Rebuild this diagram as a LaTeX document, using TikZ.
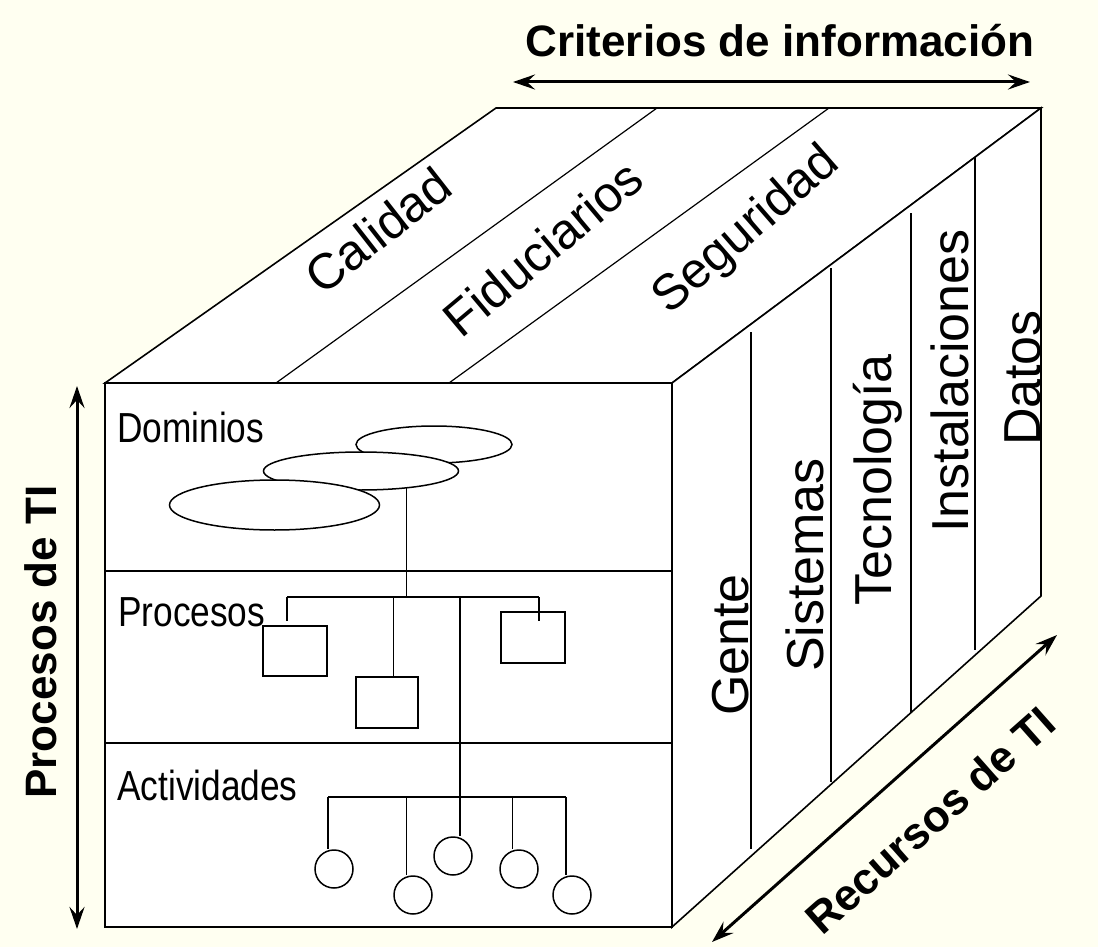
\documentclass[tikz,border=0pt]{standalone}
\usepackage{fontspec}
\setmainfont{Liberation Sans}
\usetikzlibrary{arrows.meta,shapes.geometric,calc}
\definecolor{bgc}{RGB}{255,255,241}
\begin{document}
\begin{tikzpicture}[x=1pt,y=-1pt,
  face/.style={draw=black,fill=white,line width=1.6pt,line join=miter},
  front/.style={draw=black,fill=white,line width=2.5pt},
  divline/.style={draw=black,line width=2pt},
  thinline/.style={draw=black,line width=1.2pt},
  rline/.style={draw=black,line width=1.5pt},
  tree/.style={draw=black,line width=1.6pt},
  ell/.style={ellipse,draw=black,fill=white,line width=1.5pt,inner sep=0pt},
  procbox/.style={rectangle,draw=black,fill=white,line width=1.6pt,inner sep=0pt},
  actcirc/.style={circle,draw=black,fill=white,line width=1.5pt,inner sep=0pt,minimum size=38pt},
  biglabel/.style={inner sep=0pt,font=\bfseries\fontsize{44}{50}\selectfont},
  toplabel/.style={inner sep=0pt,font=\fontsize{50}{58}\selectfont},
  sidelabel/.style={inner sep=0pt,rotate=90,anchor=base,font=\fontsize{52}{60}\selectfont},
  frontlabel/.style={inner sep=0pt,anchor=base west,font=\fontsize{42}{50}\selectfont},
  dblarrow/.style={line width=3pt,{Stealth[length=22pt,width=15pt,inset=8pt]}-{Stealth[length=22pt,width=15pt,inset=8pt]}}
]
\fill[bgc] (0,0) rectangle (1098,947);
\useasboundingbox (0,0) rectangle (1098,947);

% cube corners
\coordinate (F1) at (105,383);
\coordinate (F2) at (672,383);
\coordinate (F3) at (672,927);
\coordinate (F4) at (105,927);
\coordinate (T1) at (496,108);
\coordinate (T2) at (1041,108);
\coordinate (B3) at (1041,596);

% top face
\path[face] (F1) -- (T1) -- (T2) -- (F2) -- cycle;
\coordinate (td1a) at (276,383); \coordinate (td1b) at (657,108);
\coordinate (td2a) at (449,383); \coordinate (td2b) at (829,108);
\draw[thinline] (td1a) -- (td1b);
\draw[thinline] (td2a) -- (td2b);

% right face
\path[face] (F2) -- (T2) -- (B3) -- (F3) -- cycle;
\coordinate (r1a) at (751,332); \coordinate (r1b) at (751,849);
\coordinate (r2a) at (831,268); \coordinate (r2b) at (831,782);
\coordinate (r3a) at (911,213); \coordinate (r3b) at (911,713);
\coordinate (r4a) at (975,157); \coordinate (r4b) at (975,650);
\draw[rline] (r1a) -- (r1b);
\draw[rline] (r2a) -- (r2b);
\draw[rline] (r3a) -- (r3b);
\draw[rline] (r4a) -- (r4b);

% front face
\path[front] (F1) rectangle (F3);
\coordinate (d1a) at (105,571); \coordinate (d1b) at (672,571);
\coordinate (d2a) at (105,743); \coordinate (d2b) at (672,743);
\draw[divline] (d1a) -- (d1b);
\draw[divline] (d2a) -- (d2b);

% top labels
\node[toplabel,rotate=38] (cal) at (378,230) {Calidad};
\node[toplabel,rotate=40] (fid) at (543,248) {Fiduciarios};
\node[toplabel,rotate=41] (seg) at (747,231) {Seguridad};

% side labels
\node[sidelabel] (gen) at (748,645) {Gente};
\node[sidelabel] (sis) at (823,565) {Sistemas};
\node[sidelabel] (tec) at (891,480) {Tecnología};
\node[sidelabel] (ins) at (968,381) {Instalaciones};
\node[sidelabel] (dat) at (1040,378) {Datos};

% front labels
\node[frontlabel] (dom) at (117,442) {\scalebox{0.84}[1]{Dominios}};
\node[frontlabel] (pro) at (118,626) {\scalebox{0.84}[1]{Procesos}};
\node[frontlabel] (act) at (117,800) {\scalebox{0.84}[1]{Actividades}};

% domain ellipses
\node[ell,minimum width=156pt,minimum height=37pt] (e1) at (434,444.5) {};
\node[ell,minimum width=195pt,minimum height=38pt] (e2) at (361,471) {};
\node[ell,minimum width=210pt,minimum height=50pt] (e3) at (274.5,505) {};

% process boxes
\node[procbox,minimum width=64pt,minimum height=50pt] (b1) at (295,651) {};
\node[procbox,minimum width=62pt,minimum height=51pt] (b2) at (387,702.5) {};
\node[procbox,minimum width=64pt,minimum height=51pt] (b3) at (533,637.5) {};

% activity circles
\node[actcirc] (c1) at (334,869) {};
\node[actcirc] (c2) at (413,895) {};
\node[actcirc] (c3) at (453,856) {};
\node[actcirc] (c4) at (519,869) {};
\node[actcirc] (c5) at (572,895) {};

% tree connectors
\coordinate (pt) at (406.5,597);
\coordinate (pl) at (287,597);
\coordinate (pm) at (393.5,597);
\coordinate (pc) at (460,597);
\coordinate (pr) at (539,597);
\coordinate (al) at (328,797);
\coordinate (a2) at (406.5,797);
\coordinate (ac) at (460,797);
\coordinate (a4) at (512.5,797);
\coordinate (ar) at (566,797);

\draw[tree] (pt) -- (pt |- e2.-20.6);
\draw[tree] (pl) -- (pr);
\draw[tree] (pl) -- ([yshift=4pt]pl |- b1.north);
\draw[tree] (pm) -- (pm |- b2.north);
\draw[tree] (pr) -- ([yshift=-10pt]pr |- b3.north);
\draw[tree] (pc) -- (ac);
\draw[tree] (al) -- (ar);
\draw[tree] (al) -- (al |- c1.north);
\draw[tree] (a2) -- (a2 |- c2.north);
\draw[tree] (ac) -- (ac |- c3.north);
\draw[tree] (a4) -- (a4 |- c4.north);
\draw[tree] (ar) -- (ar |- c5.north);

% axis labels and arrows
\node[biglabel,anchor=base] (crit) at (780,57) {Criterios de información};
\coordinate (ha) at (513,82); \coordinate (hb) at (1030,82);
\draw[dblarrow] (ha) -- (hb);

\node[biglabel,anchor=base,rotate=90] (ptl) at (56,642) {Procesos de TI};
\coordinate (va) at (77,386); \coordinate (vb) at (77,929);
\draw[dblarrow] (va) -- (vb);

\node[biglabel,rotate=41.5] (rec) at (930,820) {Recursos de TI};
\coordinate (ra) at (712,942); \coordinate (rb) at (1057,635);
\draw[dblarrow] (ra) -- (rb);
\end{tikzpicture}
\end{document}
